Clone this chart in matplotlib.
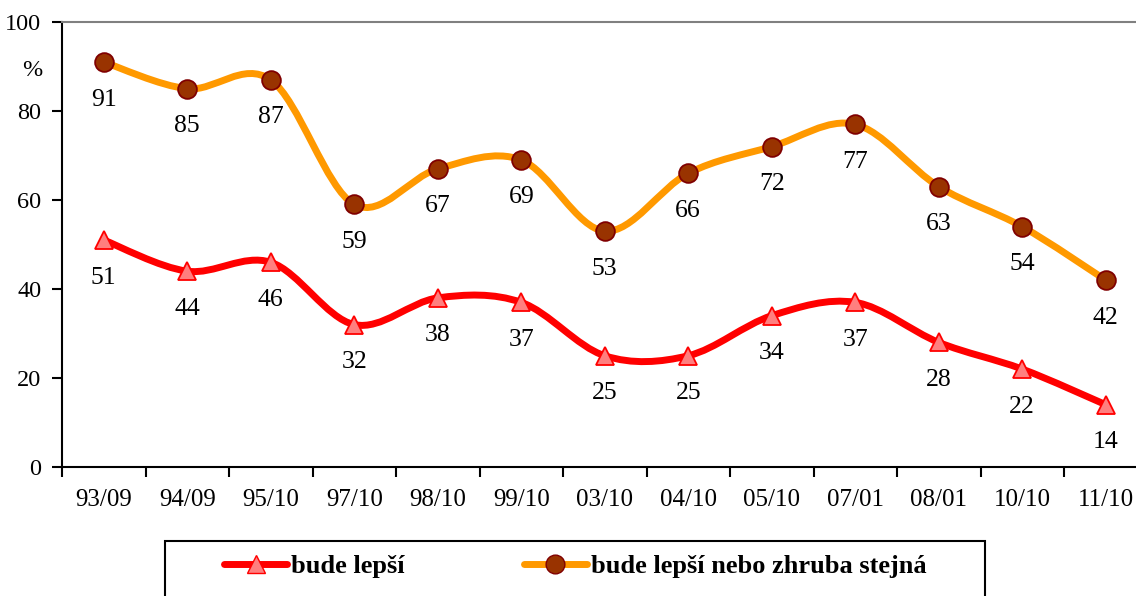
import numpy as np
import matplotlib.pyplot as plt
from matplotlib.path import Path
from matplotlib.patches import PathPatch, Rectangle
from matplotlib.lines import Line2D

plt.rcParams['font.family'] = ['Liberation Serif', 'DejaVu Serif']

categories = ["93/09", "94/09", "95/10", "97/10", "98/10", "99/10", "03/10",
              "04/10", "05/10", "07/01", "08/01", "10/10", "11/10"]
better = [51, 44, 46, 32, 38, 37, 25, 25, 34, 37, 28, 22, 14]
better_or_same = [91, 85, 87, 59, 67, 69, 53, 66, 72, 77, 63, 54, 42]

RED = "#ff0000"
ORANGE = "#ff9900"
LW = 5


def smooth_path(xs, ys):
    # Excel-like smoothed line: cubic bezier through the points
    pts = np.column_stack([xs, ys]).astype(float)
    n = len(pts)
    verts = [pts[0]]
    codes = [Path.MOVETO]
    for i in range(n - 1):
        p0 = pts[i - 1] if i > 0 else pts[i]
        p1 = pts[i]
        p2 = pts[i + 1]
        p3 = pts[i + 2] if i + 2 < n else pts[i + 1]
        c1 = p1 + (p2 - p0) / 6.0
        c2 = p2 - (p3 - p1) / 6.0
        verts += [c1, c2, p2]
        codes += [Path.CURVE4] * 3
    return Path(verts, codes)


def draw_series(ax, values, color, marker, mfc, mec, ms):
    x = np.arange(len(values))
    patch = PathPatch(smooth_path(x, values), facecolor="none", edgecolor=color,
                      lw=LW, capstyle="round", joinstyle="round", zorder=3)
    ax.add_patch(patch)
    ax.plot(x, values, linestyle="none", marker=marker, ms=ms, mfc=mfc,
            mec=mec, mew=1.3, zorder=4)
    for xi, v in zip(x, values):
        ax.annotate(str(v), (xi, v), xytext=(0, -27), textcoords="offset points",
                    ha="center", va="center", fontsize=18.5, zorder=5)


fig = plt.figure(figsize=(11.36, 5.96), dpi=100)
ax = fig.add_axes([62 / 1136, 1 - 467 / 596, 1085.5 / 1136, 445 / 596])

draw_series(ax, better, RED, "^", "#ff7f7f", RED, 13)
draw_series(ax, better_or_same, ORANGE, "o", "#993300", "#800000", 13.5)

ax.set_xlim(-0.5, len(categories) - 0.5)
ax.set_ylim(0, 100)
ax.set_yticks(range(0, 101, 20))
ax.set_xticks(range(len(categories)))
ax.set_xticklabels(categories)
ax.set_xticks(np.arange(-0.5, len(categories), 1.0), minor=True)
ax.tick_params(axis="x", which="major", length=0, pad=16, labelsize=18)
ax.tick_params(axis="x", which="minor", length=7, width=1.5, direction="out")
ax.tick_params(axis="y", length=7, width=1.5, pad=8, labelsize=17.5)

ax.spines["right"].set_visible(False)
ax.spines["top"].set_color("#808080")
ax.spines["top"].set_linewidth(1.5)
ax.spines["left"].set_linewidth(1.5)
ax.spines["bottom"].set_linewidth(1.5)

fig.text(32 / 1136, 1 - 70 / 596, "%", ha="center", va="center", fontsize=17.5)

# legend box
fig.patches.append(Rectangle((165 / 1136, -0.05), (985 - 165) / 1136, 0.05 + 55 / 596,
                             transform=fig.transFigure, facecolor="white",
                             edgecolor="black", lw=1.5, zorder=1))
handles = [
    Line2D([], [], color=RED, lw=LW, marker="^", ms=13, mfc="#ff7f7f", mec=RED,
           solid_capstyle="round"),
    Line2D([], [], color=ORANGE, lw=LW, marker="o", ms=13.5, mfc="#993300",
           mec="#800000", solid_capstyle="round"),
]
leg = fig.legend(handles, ["bude lepší", "bude lepší nebo zhruba stejná"],
                 loc="center left", bbox_to_anchor=(224 / 1136, 1 - 566 / 596),
                 ncol=2, frameon=False, handlelength=2.4, handletextpad=0.15,
                 columnspacing=4.5, borderpad=0, borderaxespad=0,
                 prop={"weight": "bold", "size": 19})

fig.savefig("out.png", dpi=100)
